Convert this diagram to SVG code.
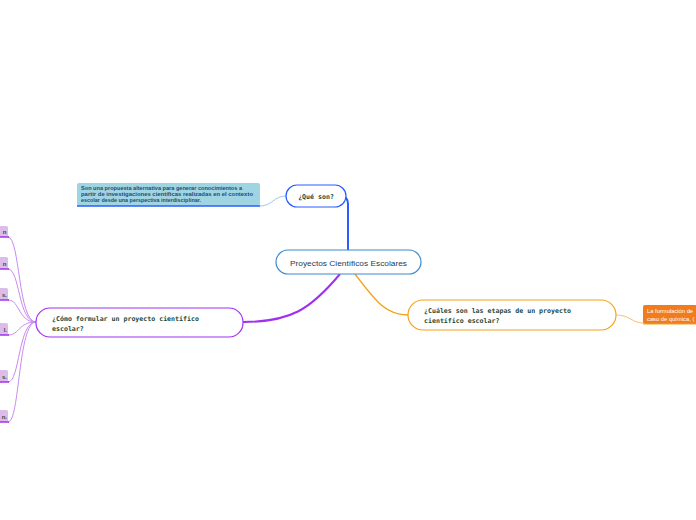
<svg xmlns="http://www.w3.org/2000/svg" width="696" height="520" viewBox="0 0 696 520">
<style>
.mono{font-family:"DejaVu Sans Mono","Liberation Mono",monospace;font-size:6.6px;fill:#1d4a3a;font-weight:bold}
.plf{fill:#dcbde9}
.plt{font-family:"Liberation Sans",Arial,sans-serif;font-size:6px;fill:#444;font-weight:bold}
.pc{fill:none;stroke:#c98af2;stroke-width:1}
</style>
<rect width="696" height="520" fill="#ffffff"/>
<g id="connectors" fill="none">
<path d="M348,250 L348,204 Q348,196 340,196" stroke="#2a5cff" stroke-width="2"/>
<path d="M260,206 C272,206 274,196 286,196" stroke="#9cc8f0" stroke-width="1"/>
<path d="M340,274 C310,310 290,322 243,322" stroke="#a030f0" stroke-width="2"/>
<path d="M355,274 C375,300 385,315 408,315" stroke="#f5a31a" stroke-width="1.5"/>
<path d="M616,315 C630,315 632,323 643,323" stroke="#f8c070" stroke-width="1"/>
<path class="pc" d="M36,322 C18,322 20,237 8,237"/>
<path class="pc" d="M36,322 C18,322 20,269 8,269"/>
<path class="pc" d="M36,322 C18,322 20,300 8,300"/>
<path class="pc" d="M36,322 C18,322 20,335 8,335"/>
<path class="pc" d="M36,322 C18,322 20,382 8,382"/>
<path class="pc" d="M36,322 C18,322 20,422 8,422"/>
</g>
<g id="central">
<rect x="276" y="250" width="145" height="24" rx="12" fill="#ffffff" stroke="#3d8ad0" stroke-width="1.2"/>
<text x="348.5" y="265.5" text-anchor="middle" font-family="'Liberation Sans',Arial,sans-serif" font-size="8" fill="#1d3a5a" textLength="117" lengthAdjust="spacingAndGlyphs">Proyectos Científicos Escolares</text>
</g>
<g id="que-son">
<rect x="286" y="185" width="60" height="22" rx="11" fill="#ffffff" stroke="#2a5cff" stroke-width="1.2"/>
<text x="316" y="198.5" text-anchor="middle" class="mono">¿Qué son?</text>
</g>
<g id="que-son-note">
<rect x="77" y="183" width="183" height="23" rx="2" fill="#9fd5e3"/>
<line x1="77" y1="206" x2="260" y2="206" stroke="#2a5cff" stroke-width="1.5"/>
<text font-family="'Liberation Sans',Arial,sans-serif" font-size="4.6" font-weight="bold" fill="#264a70">
<tspan x="81" y="189.5" textLength="161" lengthAdjust="spacingAndGlyphs">Son una propuesta alternativa para generar conocimientos a</tspan>
<tspan x="81" y="195.5" textLength="172" lengthAdjust="spacingAndGlyphs">partir de investigaciones científicas realizadas en el contexto</tspan>
<tspan x="81" y="201.5" textLength="120" lengthAdjust="spacingAndGlyphs">escolar desde una perspectiva interdisciplinar.</tspan>
</text>
</g>
<g id="como-formular">
<rect x="36" y="308" width="207" height="29" rx="14" fill="#ffffff" stroke="#a030f0" stroke-width="1.2"/>
<text class="mono"><tspan x="52" y="320.5">¿Cómo formular un proyecto científico</tspan><tspan x="52" y="330.5">escolar?</tspan></text>
</g>
<g id="cuales-etapas">
<rect x="408" y="300" width="208" height="30" rx="15" fill="#ffffff" stroke="#f5a31a" stroke-width="1.2"/>
<text class="mono"><tspan x="424" y="313">¿Cuáles son las etapas de un proyecto</tspan><tspan x="424" y="323">científico escolar?</tspan></text>
</g>
<g id="formulacion-leaf">
<rect x="643" y="305" width="60" height="19" rx="2" fill="#f07c1e"/>
<line x1="643" y1="324" x2="696" y2="324" stroke="#f5a31a" stroke-width="1"/>
<text font-family="'Liberation Sans',Arial,sans-serif" font-size="5.8" fill="#ffffff"><tspan x="647" y="313">La formulación de</tspan><tspan x="647" y="320.5">caso de química, (</tspan></text>
</g>
<g id="leaf1"><rect class="plf" x="-10" y="226" width="18" height="11" rx="1.5"/><line x1="-10" y1="237" x2="9" y2="237" stroke="#a030f0" stroke-width="1.5"/><text class="plt" x="6.5" y="234" text-anchor="end">n</text></g>
<g id="leaf2"><rect class="plf" x="-10" y="257" width="18" height="12" rx="1.5"/><line x1="-10" y1="269" x2="9" y2="269" stroke="#a030f0" stroke-width="1.5"/><text class="plt" x="6.5" y="265.5" text-anchor="end">n</text></g>
<g id="leaf3"><rect class="plf" x="-10" y="288" width="18" height="12" rx="1.5"/><line x1="-10" y1="300" x2="9" y2="300" stroke="#a030f0" stroke-width="1.5"/><text class="plt" x="7" y="296.5" text-anchor="end">s.</text></g>
<g id="leaf4"><rect class="plf" x="-10" y="323" width="18" height="12" rx="1.5"/><line x1="-10" y1="335" x2="9" y2="335" stroke="#a030f0" stroke-width="1.5"/><text class="plt" x="7" y="331.5" text-anchor="end">l.</text></g>
<g id="leaf5"><rect class="plf" x="-10" y="370" width="18" height="12" rx="1.5"/><line x1="-10" y1="382" x2="9" y2="382" stroke="#a030f0" stroke-width="1.5"/><text class="plt" x="7" y="378.5" text-anchor="end">s.</text></g>
<g id="leaf6"><rect class="plf" x="-10" y="410" width="18" height="12" rx="1.5"/><line x1="-10" y1="422" x2="9" y2="422" stroke="#a030f0" stroke-width="1.5"/><text class="plt" x="7" y="418.5" text-anchor="end">n.</text></g>
</svg>
